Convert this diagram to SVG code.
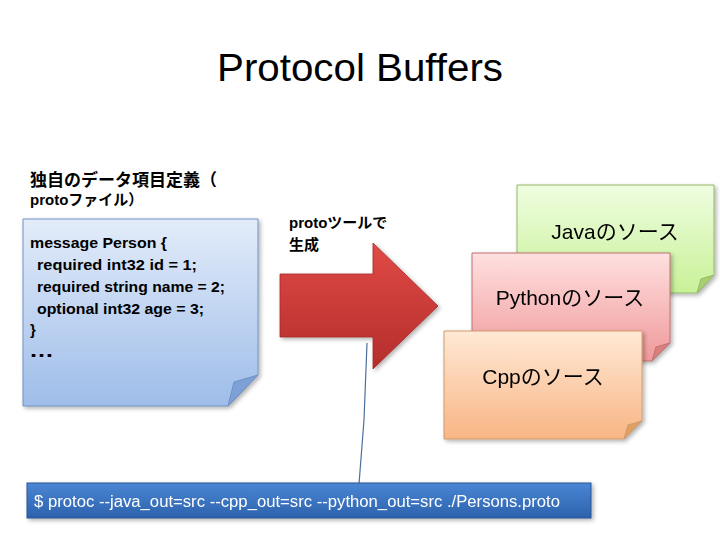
<svg xmlns="http://www.w3.org/2000/svg" width="720" height="540" viewBox="0 0 720 540">
<defs>
<linearGradient id="gBlue" x1="0" y1="0" x2="0" y2="1"><stop offset="0" stop-color="#e3ecfa"/><stop offset="1" stop-color="#9ebde9"/></linearGradient>
<linearGradient id="gGreen" x1="0" y1="0" x2="0" y2="1"><stop offset="0" stop-color="#effde0"/><stop offset="1" stop-color="#c8f197"/></linearGradient>
<linearGradient id="gPink" x1="0" y1="0" x2="0" y2="1"><stop offset="0" stop-color="#ffe0e0"/><stop offset="1" stop-color="#f0999a"/></linearGradient>
<linearGradient id="gOrange" x1="0" y1="0" x2="0" y2="1"><stop offset="0" stop-color="#ffe9d6"/><stop offset="1" stop-color="#f8b584"/></linearGradient>
<linearGradient id="gRed" x1="0" y1="0" x2="0" y2="1"><stop offset="0" stop-color="#e04a46"/><stop offset="1" stop-color="#b42d2b"/></linearGradient>
<linearGradient id="gCmd" x1="0" y1="0" x2="0" y2="1"><stop offset="0" stop-color="#4a86d4"/><stop offset="1" stop-color="#2d62ad"/></linearGradient>
<filter id="sh" x="-10%" y="-10%" width="130%" height="130%"><feDropShadow dx="2" dy="2" stdDeviation="2" flood-color="#000" flood-opacity="0.3"/></filter>
</defs>
<style>
.t{font-family:"Liberation Sans","Noto Sans CJK JP",sans-serif;fill:#000}
.b{font-weight:bold}
.title{font-size:38px}
.code{font-size:15px;font-weight:bold}
.dots{font-size:20px;font-weight:bold}
.note{font-size:21px}
</style>
<text class="t title" x="217" y="81" textLength="286" lengthAdjust="spacingAndGlyphs">Protocol Buffers</text>
<g id="heading">
<text class="t b" x="30" y="186" font-size="17">独自のデータ項目定義（</text>
<text class="t b" x="30" y="205" font-size="15">protoファイル）</text>
</g>
<g id="proto-note" filter="url(#sh)">
<path d="M23,219 H258 V375 L228,406 H23 Z" fill="url(#gBlue)" stroke="#6f91c4"/>
<path d="M258,375 L234,382 L228,406 Z" fill="#7da0d6" stroke="#6f91c4"/>
</g>
<g id="proto-code">
<text class="t code" x="30" y="248" textLength="137" lengthAdjust="spacingAndGlyphs">message Person {</text>
<text class="t code" x="37" y="270" textLength="160" lengthAdjust="spacingAndGlyphs">required int32 id = 1;</text>
<text class="t code" x="37" y="292" textLength="188" lengthAdjust="spacingAndGlyphs">required string name = 2;</text>
<text class="t code" x="37" y="314" textLength="167" lengthAdjust="spacingAndGlyphs">optional int32 age = 3;</text>
<text class="t code" x="30" y="335">}</text>
<text class="t dots" x="29" y="357" textLength="25" lengthAdjust="spacingAndGlyphs">…</text>
</g>
<g id="tool-label">
<text class="t b" x="289" y="228" font-size="15">protoツールで</text>
<text class="t b" x="289" y="250" font-size="15">生成</text>
</g>
<g id="arrow" filter="url(#sh)">
<path d="M280,274 H373 V243 L438,306 L373,369 V337 H280 Z" fill="url(#gRed)" stroke="#a52a28" stroke-width="0.8"/>
</g>
<g id="connectors">
<path d="M367,343 L364,420 L359,484" fill="none" stroke="#4a6f9c" stroke-width="1.2"/>
</g>
<g id="java-note" filter="url(#sh)">
<path d="M517,185 H714 V275 L697,293 H517 Z" fill="url(#gGreen)" stroke="#93b768"/>
<path d="M714,275 L701,279 L697,293 Z" fill="#a8d070" stroke="#93b768"/>
<text class="t note" x="615" y="239" text-anchor="middle">Javaのソース</text>
</g>
<g id="python-note" filter="url(#sh)">
<path d="M472,253 H670 V343 L652,361 H472 Z" fill="url(#gPink)" stroke="#c0706f"/>
<path d="M670,343 L656,347 L652,361 Z" fill="#d9807f" stroke="#c0706f"/>
<text class="t note" x="570" y="305" text-anchor="middle">Pythonのソース</text>
</g>
<g id="cpp-note" filter="url(#sh)">
<path d="M444,331 H642 V421 L624,439 H444 Z" fill="url(#gOrange)" stroke="#d09a6c"/>
<path d="M642,421 L628,425 L624,439 Z" fill="#e0a060" stroke="#d09a6c"/>
<text class="t note" x="543" y="384" text-anchor="middle">Cppのソース</text>
</g>
<g id="command" filter="url(#sh)">
<rect x="27" y="483" width="564" height="35" fill="url(#gCmd)" stroke="#2a5595"/>
<text x="34" y="507" font-family="Liberation Sans, sans-serif" font-size="16" fill="#fff" textLength="526" lengthAdjust="spacingAndGlyphs">$ protoc --java_out=src --cpp_out=src --python_out=src ./Persons.proto</text>
</g>
</svg>
